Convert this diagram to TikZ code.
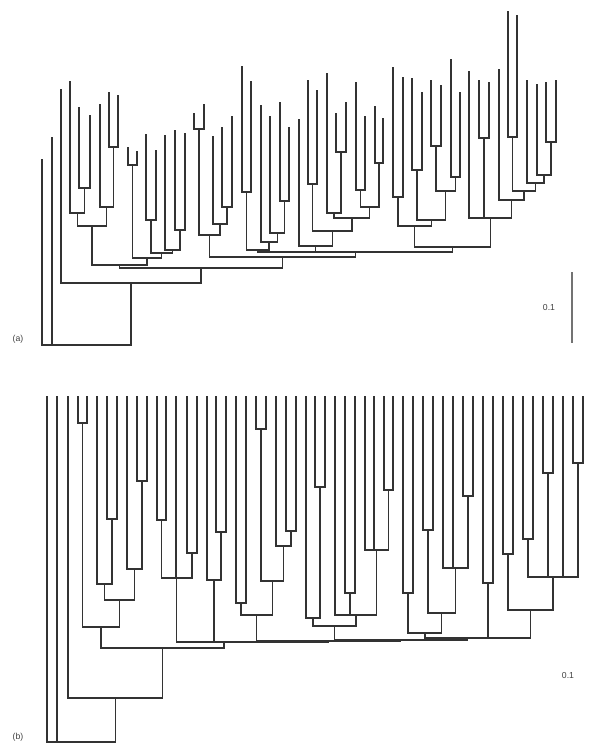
\documentclass[tikz,border=0pt]{standalone}
\usepackage{fontspec}
\setmainfont{Liberation Sans}
\usetikzlibrary{calc}

% one clade: name, height of the join, children from left to right
\newcommand{\clade}[3]{%
  \path (0,#2) coordinate (h-#1);
  \foreach \kid [count=\i] in {#3} {%
    \draw[branch] (\kid) -- (\kid |- h-#1);
    \ifnum\i=1 \xdef\firstkid{\kid}\fi
    \xdef\lastkid{\kid}%
  }
  \draw[branch] (\firstkid |- h-#1) -- (\lastkid |- h-#1);
  \coordinate (#1) at ($(\firstkid |- h-#1)!0.5!(\lastkid |- h-#1)$);
}

\begin{document}
\begin{tikzpicture}[
	x=0.75pt, y=-0.75pt,
	branch/.style={draw=black!80, line width=0.95pt, line cap=rect},
	scalebar/.style={draw=black!55, line width=0.9pt},
	tag/.style={font=\fontsize{6.5}{7}\selectfont, text=black!75, inner sep=0pt}
]
\useasboundingbox[fill=white] (0,0) rectangle (598,744);

% Tree (a): leaf tips
\foreach \n/\x/\t in {1/42/160, 2/52/138, 3/61/90, 4/70/82, 5/79/108, 6/90/116,
	7/100/105, 8/109/93, 9/118/96, 10/128/148, 11/137/152, 12/146/135, 13/156/151,
	14/165/136, 15/175/131, 16/185/134, 17/194/114, 18/204/105, 19/213/137,
	20/222/128, 21/232/117, 22/242/67, 23/251/82, 24/261/106, 25/270/117,
	26/280/103, 27/289/128, 28/299/120, 29/308/81, 30/317/91, 31/327/74,
	32/336/114, 33/346/103, 34/356/83, 35/365/117, 36/375/107, 37/383/119,
	38/393/68, 39/403/78, 40/412/79, 41/422/93, 42/431/81, 43/441/86, 44/451/60,
	45/460/93, 46/469/72, 47/479/81, 48/489/83, 49/499/70, 50/508/12, 51/517/16,
	52/527/81, 53/537/85, 54/546/83, 55/556/81}
	\coordinate (a\n) at (\x,\t);

% Tree (a): clades
\clade{aN1}{188}{a5,a6}
\clade{aN2}{213}{a4,aN1}
\clade{aN3}{147}{a8,a9}
\clade{aN4}{207}{a7,aN3}
\clade{aN5}{226}{aN2,aN4}
\clade{aN6}{165}{a10,a11}
\clade{aN7}{220}{a12,a13}
\clade{aN8}{230}{a15,a16}
\clade{aN9}{250}{a14,aN8}
\clade{aN10}{253}{aN7,aN9}
\clade{aN11}{258}{aN6,aN10}
\clade{aN12}{265}{aN5,aN11}
\clade{aN13}{129}{a17,a18}
\clade{aN14}{207}{a20,a21}
\clade{aN15}{224}{a19,aN14}
\clade{aN16}{235}{aN13,aN15}
\clade{aN17}{192}{a22,a23}
\clade{aN18}{201}{a26,a27}
\clade{aN19}{233}{a25,aN18}
\clade{aN20}{242}{a24,aN19}
\clade{aN21}{250}{aN17,aN20}
\clade{aN22}{184}{a29,a30}
\clade{aN23}{152}{a32,a33}
\clade{aN24}{213}{a31,aN23}
\clade{aN25}{190}{a34,a35}
\clade{aN26}{163}{a36,a37}
\clade{aN27}{207}{aN25,aN26}
\clade{aN28}{218}{aN24,aN27}
\clade{aN29}{231}{aN22,aN28}
\clade{aN30}{246}{a28,aN29}
\clade{aN31}{197}{a38,a39}
\clade{aN32}{170}{a40,a41}
\clade{aN33}{146}{a42,a43}
\clade{aN34}{177}{a44,a45}
\clade{aN35}{191}{aN33,aN34}
\clade{aN36}{220}{aN32,aN35}
\clade{aN37}{226}{aN31,aN36}
\clade{aN38}{138}{a47,a48}
\clade{aN39}{137}{a50,a51}
\clade{aN40}{142}{a54,a55}
\clade{aN41}{175}{a53,aN40}
\clade{aN42}{183}{a52,aN41}
\clade{aN43}{191}{aN39,aN42}
\clade{aN44}{200}{a49,aN43}
\clade{aN45}{218}{a46,aN38,aN44}
\clade{aN46}{247}{aN37,aN45}
\clade{aN47}{252}{aN21,aN30,aN46}
\clade{aN48}{257}{aN16,aN47}
\clade{aN49}{268}{aN12,aN48}
\clade{aN50}{283}{a3,aN49}
\clade{aroot}{345}{a1,a2,aN50}

% Tree (b): leaf tips, all level
\foreach \x [count=\n] in {47,57,68,78,87,97,107,117,127,137,147,157,166,176,187,
	197,207,216,226,236,246,256,266,276,286,296,306,315,325,335,345,355,365,374,
	384,393,403,413,423,433,443,453,463,473,483,493,503,513,523,533,543,553,563,
	573,583}
	\coordinate (b\n) at (\x,397);

% Tree (b): clades
\clade{bN1}{423}{b4,b5}
\clade{bN2}{519}{b7,b8}
\clade{bN3}{584}{b6,bN2}
\clade{bN4}{481}{b10,b11}
\clade{bN5}{569}{b9,bN4}
\clade{bN6}{600}{bN3,bN5}
\clade{bN7}{627}{bN1,bN6}
\clade{bN8}{520}{b12,b13}
\clade{bN9}{553}{b15,b16}
\clade{bN10}{578}{bN8,b14,bN9}
\clade{bN11}{532}{b18,b19}
\clade{bN12}{580}{b17,bN11}
\clade{bN13}{603}{b20,b21}
\clade{bN14}{429}{b22,b23}
\clade{bN15}{531}{b25,b26}
\clade{bN16}{546}{b24,bN15}
\clade{bN17}{581}{bN14,bN16}
\clade{bN18}{615}{bN13,bN17}
\clade{bN19}{487}{b28,b29}
\clade{bN20}{618}{b27,bN19}
\clade{bN21}{593}{b31,b32}
\clade{bN22}{490}{b35,b36}
\clade{bN23}{550}{b33,b34,bN22}
\clade{bN24}{615}{b30,bN21,bN23}
\clade{bN25}{626}{bN20,bN24}
\clade{bN26}{593}{b37,b38}
\clade{bN27}{530}{b39,b40}
\clade{bN28}{496}{b43,b44}
\clade{bN29}{568}{b41,b42,bN28}
\clade{bN30}{613}{bN27,bN29}
\clade{bN31}{633}{bN26,bN30}
\clade{bN32}{583}{b45,b46}
\clade{bN33}{554}{b47,b48}
\clade{bN34}{539}{b49,b50}
\clade{bN35}{473}{b51,b52}
\clade{bN36}{463}{b54,b55}
\clade{bN37}{577}{bN34,bN35,b53,bN36}
\clade{bN38}{610}{bN33,bN37}
\clade{bN39}{638}{bN32,bN38}
\clade{bN40}{638}{bN31,bN39}
\clade{bN41}{640}{bN25,bN40}
\clade{bN42}{641}{bN18,bN41}
\clade{bN43}{642}{bN12,bN42}
\clade{bN44}{642}{bN10,bN43}
\clade{bN45}{648}{bN7,bN44}
\clade{bN46}{698}{b3,bN45}
\clade{broot}{742}{b1,b2,bN46}

% Panel tags and scales
\node[tag] (tagA) at (18,339) {(a)};
\node[tag] (tagB) at (18,737) {(b)};
\node[tag] (scaleA) at (549,308) {0.1};
\node[tag] (scaleB) at (568,676) {0.1};
\coordinate (barTop) at (572,272);
\coordinate (barBot) at (572,343);
\draw[scalebar] (barTop) -- (barBot);

\end{tikzpicture}
\end{document}
